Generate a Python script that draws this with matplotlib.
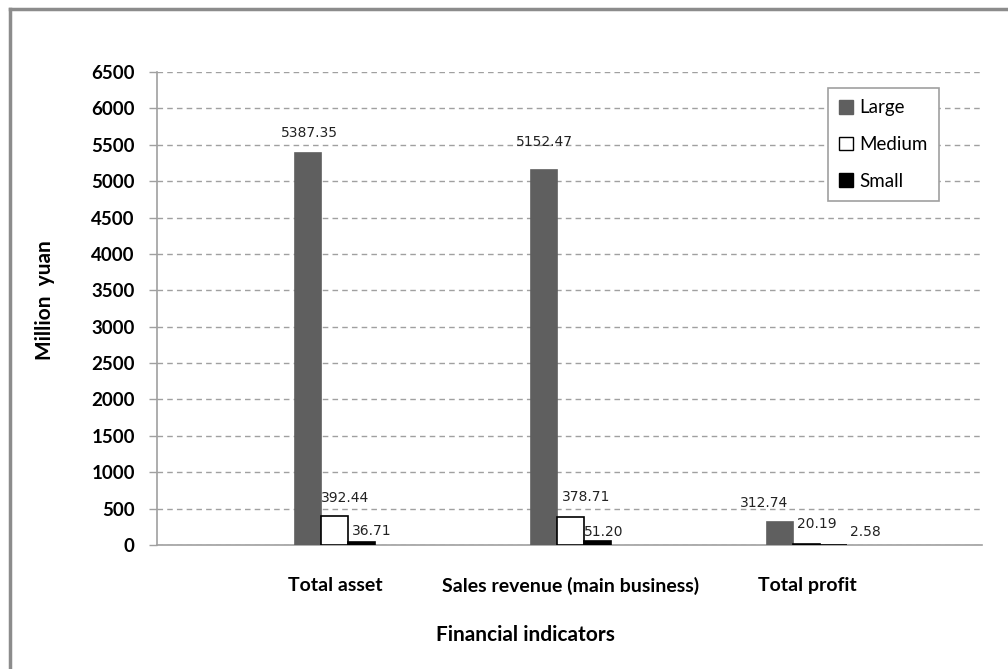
import matplotlib
matplotlib.use("Agg")
import matplotlib.pyplot as plt
from matplotlib.lines import Line2D
from matplotlib.patches import Patch
import numpy as np

categories = ["Total asset", "Sales revenue (main business)", "Total profit"]
series_names = ["Large", "Medium", "Small"]
large = [5387.35, 5152.47, 312.74]
medium = [392.44, 378.71, 20.19]
small = [36.71, 51.20, 2.58]
yticks = list(range(0, 7000, 500))

# label offsets in pixels (dx, dy) from bar top-center, per series per category
label_offsets = [
    [(1, 20), (0, 28), (-16, 19)],
    [(10, 18), (15, 20), (10, 20)],
    [(10, 11), (6, 9), (32, 13)],
]

W, H = 1008, 669
fig = plt.figure(figsize=(W / 100, H / 100), dpi=100)
ax = fig.add_axes([157 / W, (H - 545) / H, (982 - 157) / W, (545 - 72) / H])

x = np.arange(len(categories))
bw = 0.114
colors = ["#5f5f5f", "white", "black"]
edges = ["#5f5f5f", "black", "black"]
all_series = [large, medium, small]
for i, vals in enumerate(all_series):
    pos = x + (i - 1) * bw
    ax.bar(pos, vals, width=bw, color=colors[i], edgecolor=edges[i],
           linewidth=1.2, zorder=3)
    for j, v in enumerate(vals):
        dx, dy = label_offsets[i][j]
        ax.annotate(f"{v:.2f}", xy=(pos[j], v), xytext=(dx * 0.72, dy * 0.72),
                    textcoords="offset points", ha="center", va="center",
                    fontsize=10, color="#222222", family="DejaVu Sans", zorder=4)

ax.set_xlim(-0.754, 2.742)
ax.set_ylim(0, 6500)
ax.set_yticks(yticks)
ax.set_yticklabels([str(t) for t in yticks], family="Lato", fontweight="bold",
                   fontsize=13.5)
ax.set_xticks(x)
ax.set_xticklabels(categories, family="Lato", fontweight="bold", fontsize=14)
ax.tick_params(axis="x", length=0, pad=23)
ax.tick_params(axis="y", length=6, width=1, color="#a0a0a0", pad=10)

ax.yaxis.grid(True, linestyle=(0, (4, 3)), color="#a0a0a0", linewidth=1, zorder=0)
ax.set_axisbelow(True)
for s in ["top", "right"]:
    ax.spines[s].set_visible(False)
for s in ["left", "bottom"]:
    ax.spines[s].set_color("#a0a0a0")
    ax.spines[s].set_linewidth(1.2)

fig.text(45 / W, 1 - 300 / H, "Million  yuan", rotation=90, ha="center",
         va="center", family="Lato", fontweight="bold", fontsize=15)
fig.text(525 / W, 1 - 635 / H, "Financial indicators", ha="center",
         va="center", family="Lato", fontweight="bold", fontsize=15)

handles = [Patch(facecolor=colors[i], edgecolor=edges[i], linewidth=1)
           for i in range(3)]
leg = fig.legend(handles, series_names, loc="upper left",
                 bbox_to_anchor=(828 / W, 1 - 88 / H), frameon=True,
                 fancybox=False, edgecolor="#a0a0a0", framealpha=1,
                 prop={"family": "Lato", "size": 13.5}, handlelength=0.75,
                 handleheight=0.75, handletextpad=0.3, labelspacing=1.05,
                 borderpad=0.6, borderaxespad=0)
leg.get_frame().set_linewidth(1.2)

fig.add_artist(Line2D([10 / W, 1.0], [1 - 9 / H, 1 - 9 / H],
                      transform=fig.transFigure, color="#8c8c8c", linewidth=2.5))
fig.add_artist(Line2D([10 / W, 10 / W], [0, 1 - 9 / H],
                      transform=fig.transFigure, color="#8c8c8c", linewidth=2.5))

fig.savefig("out.png", dpi=100)
